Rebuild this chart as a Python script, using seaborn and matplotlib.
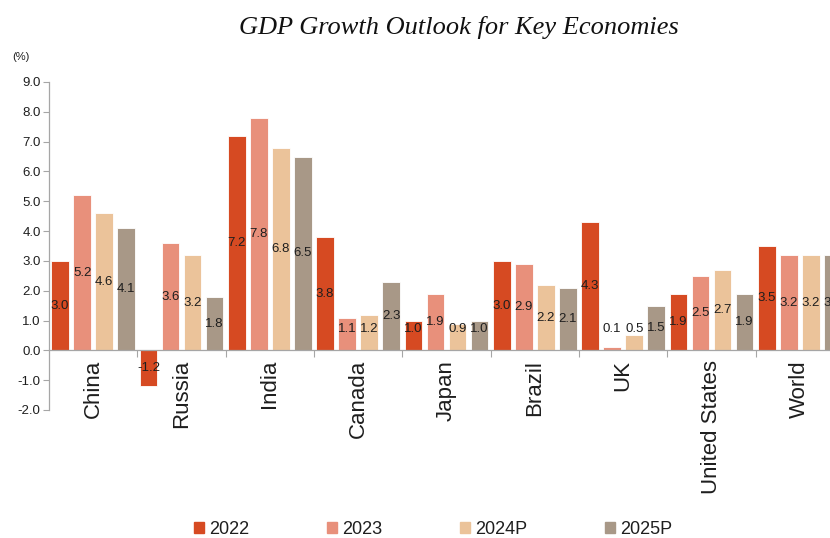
import matplotlib
matplotlib.use("Agg")
import matplotlib.pyplot as plt
from matplotlib.ticker import MultipleLocator, FixedLocator, FormatStrFormatter, NullFormatter
import seaborn as sns
import pandas as pd

# GDP growth (%) by economy
countries = ["China", "Russia", "India", "Canada", "Japan", "Brazil", "UK", "United States", "World"]
years = ["2022", "2023", "2024P", "2025P"]
g2022 = [3.0, -1.2, 7.2, 3.8, 1.0, 3.0, 4.3, 1.9, 3.5]
g2023 = [5.2, 3.6, 7.8, 1.1, 1.9, 2.9, 0.1, 2.5, 3.2]
g2024 = [4.6, 3.2, 6.8, 1.2, 0.9, 2.2, 0.5, 2.7, 3.2]
g2025 = [4.1, 1.8, 6.5, 2.3, 1.0, 2.1, 1.5, 1.9, 3.2]
colors = ["#D64A22", "#E8907B", "#EBC39A", "#A89887"]

rows = []
for yr, vals in zip(years, [g2022, g2023, g2024, g2025]):
    for c, v in zip(countries, vals):
        rows.append({"country": c, "year": yr, "growth": v})
df = pd.DataFrame(rows)

sns.set_theme(style="white")
plt.rcParams["font.family"] = ["Liberation Sans", "DejaVu Sans"]
text_col = "#1E1E1E"
axis_col = "#A6A6A6"

fig = plt.figure(figsize=(8.3, 5.38), dpi=100)
ax = fig.add_axes([49 / 830, 1 - 410 / 538, 795 / 830, 328 / 538])

sns.barplot(data=df, x="country", y="growth", hue="year", order=countries,
            hue_order=years, palette=colors, saturation=1, width=1.0, gap=0.2,
            edgecolor="white", linewidth=0.6, ax=ax, legend=False)

ax.set_xlim(-0.5, len(countries) - 0.5)
ax.set_ylim(-2.0, 9.0)
ax.set_xlabel("")
ax.set_ylabel("")

# y axis
ax.yaxis.set_major_locator(MultipleLocator(1.0))
ax.yaxis.set_major_formatter(FormatStrFormatter("%.1f"))
ax.tick_params(axis="y", direction="out", length=4, width=0.8, color=axis_col,
               labelsize=9.5, labelcolor=text_col, pad=2, left=True)

# category axis sits on the zero line, ticks at category boundaries
ax.spines["bottom"].set_position(("data", 0))
for s in ["top", "right"]:
    ax.spines[s].set_visible(False)
for s in ["left", "bottom"]:
    ax.spines[s].set_color(axis_col)
    ax.spines[s].set_linewidth(0.9)
ax.xaxis.set_minor_locator(FixedLocator([i + 0.5 for i in range(len(countries) - 1)]))
ax.xaxis.set_minor_formatter(NullFormatter())
ax.tick_params(axis="x", which="minor", direction="out", length=5, width=0.8,
               color=axis_col, bottom=True)
ax.tick_params(axis="x", which="major", length=0, pad=7, labelsize=16,
               labelcolor=text_col, bottom=True)
plt.setp(ax.get_xticklabels(), rotation=90, va="top", ha="center")

# value labels inside the bars
for cont in ax.containers:
    for bar in cont:
        h = bar.get_height()
        xc = bar.get_x() + bar.get_width() / 2
        yc = h / 2 if h < 0 else max(h / 2, 0.72)
        ax.text(xc, yc, f"{h:.1f}", ha="center", va="center", fontsize=9.5,
                color=text_col)

fig.text(459 / 830, 1 - 28 / 538, "GDP Growth Outlook for Key Economies",
         ha="center", va="center", fontsize=19, style="italic",
         family=["Liberation Serif", "DejaVu Serif"], color="#111111")
fig.text(12 / 830, 1 - 57 / 538, "(%)", ha="left", va="center", fontsize=8,
         color=text_col)

handles = [plt.Rectangle((0, 0), 1, 1, color=c) for c in colors]
leg = fig.legend(handles, years, loc="center", bbox_to_anchor=(433 / 830, 1 - 529 / 538),
                 ncol=4, frameon=False, fontsize=13, handlelength=0.55,
                 handleheight=0.55, handletextpad=0.3, columnspacing=4.3,
                 borderaxespad=0)
for t in leg.get_texts():
    t.set_color(text_col)

fig.savefig("out.png", dpi=100)
